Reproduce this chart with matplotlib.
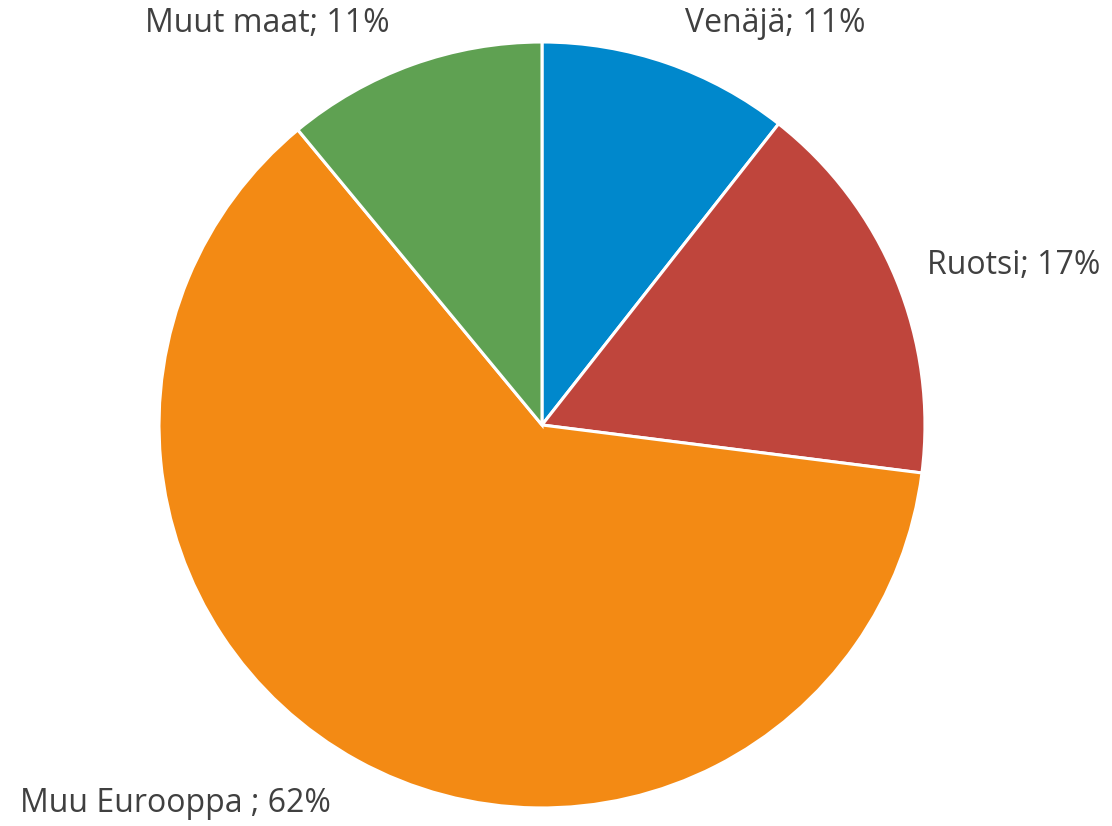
import matplotlib.pyplot as plt

labels = ["Venäjä; 11%", "Ruotsi; 17%", "Muu Eurooppa ; 62%", "Muut maat; 11%"]
shares = [10.6, 16.4, 62.0, 11.0]
colors = ["#0088CC", "#BF453C", "#F38A14", "#5FA152"]

plt.rcParams["font.family"] = ["Open Sans", "DejaVu Sans"]

fig = plt.figure(figsize=(11.12, 8.26), dpi=100)
ax = fig.add_axes([0.143, 0.0218, 0.6888, 0.9274])
ax.pie(shares, colors=colors, startangle=90, counterclock=False,
       wedgeprops=dict(edgecolor="white", linewidth=2.2))
ax.set_xlim(-1.0, 1.0)
ax.set_ylim(-1.0, 1.0)

# label placement (figure fractions)
txt = dict(fontsize=23, color="#404040")
fig.text(0.616, 0.972, labels[0], ha="left", va="center", **txt)
fig.text(0.834, 0.679, labels[1], ha="left", va="center", **txt)
fig.text(0.018, 0.027, labels[2], ha="left", va="center", **txt)
fig.text(0.130, 0.972, labels[3], ha="left", va="center", **txt)

fig.savefig("out.png", dpi=100)
